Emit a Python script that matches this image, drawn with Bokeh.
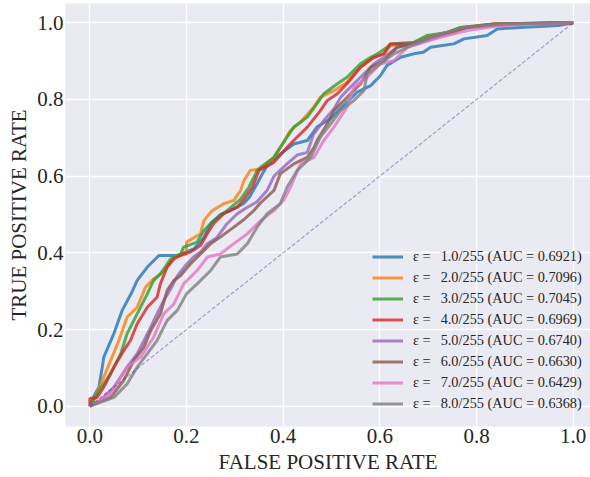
from bokeh.plotting import figure
from bokeh.models import Range1d, FixedTicker, NumeralTickFormatter, Legend, LegendItem
from bokeh.embed import file_html
from bokeh.resources import INLINE

# ---------------- data ----------------
eps_labels = ["1.0/255", "2.0/255", "3.0/255", "4.0/255",
              "5.0/255", "6.0/255", "7.0/255", "8.0/255"]
auc_values = ["0.6921", "0.7096", "0.7045", "0.6969",
              "0.6740", "0.6630", "0.6429", "0.6368"]
colors = ["#1f77b4", "#ff7f0e", "#2ca02c", "#d62728",
          "#9467bd", "#8c564b", "#e377c2", "#7f7f7f"]

fpr_1 = [0, 0.01, 0.019, 0.029, 0.05, 0.067, 0.088, 0.098, 0.119, 0.143, 0.18, 0.215, 0.236, 0.25, 0.27, 0.29, 0.318, 0.33, 0.346, 0.353, 0.367, 0.394, 0.422, 0.45, 0.47, 0.498, 0.532, 0.553, 0.581, 0.601, 0.615, 0.643, 0.67, 0.69, 0.705, 0.753, 0.774, 0.822, 0.843, 0.891, 0.97, 1]
tpr_1 = [0, 0.03, 0.05, 0.128, 0.19, 0.25, 0.30, 0.328, 0.363, 0.393, 0.393, 0.41, 0.44, 0.476, 0.50, 0.51, 0.528, 0.545, 0.58, 0.597, 0.628, 0.658, 0.684, 0.693, 0.728, 0.75, 0.793, 0.819, 0.836, 0.862, 0.889, 0.91, 0.919, 0.923, 0.936, 0.945, 0.958, 0.967, 0.984, 0.988, 0.993, 1]

fpr_2 = [0, 0.008, 0.029, 0.043, 0.06, 0.077, 0.098, 0.115, 0.132, 0.153, 0.174, 0.2, 0.2, 0.229, 0.236, 0.253, 0.277, 0.298, 0.312, 0.319, 0.332, 0.353, 0.381, 0.401, 0.415, 0.436, 0.463, 0.477, 0.505, 0.532, 0.553, 0.581, 0.608, 0.622, 0.667, 0.698, 0.739, 0.767, 0.836, 1]
tpr_2 = [0, 0.015, 0.076, 0.119, 0.171, 0.232, 0.258, 0.31, 0.332, 0.35, 0.389, 0.397, 0.428, 0.45, 0.484, 0.51, 0.528, 0.537, 0.563, 0.589, 0.615, 0.619, 0.649, 0.689, 0.719, 0.741, 0.78, 0.806, 0.823, 0.845, 0.876, 0.906, 0.919, 0.94, 0.945, 0.962, 0.975, 0.988, 0.997, 1]

fpr_3 = [0, 0.015, 0.043, 0.064, 0.077, 0.098, 0.119, 0.132, 0.146, 0.167, 0.188, 0.194, 0.222, 0.236, 0.256, 0.284, 0.312, 0.329, 0.345, 0.353, 0.381, 0.408, 0.422, 0.45, 0.47, 0.484, 0.512, 0.532, 0.56, 0.581, 0.595, 0.615, 0.622, 0.67, 0.698, 0.739, 0.767, 0.836, 0.96, 1]
tpr_3 = [0, 0.032, 0.085, 0.137, 0.189, 0.241, 0.293, 0.328, 0.345, 0.384, 0.397, 0.415, 0.428, 0.458, 0.484, 0.51, 0.54, 0.571, 0.612, 0.623, 0.649, 0.702, 0.728, 0.754, 0.789, 0.815, 0.841, 0.858, 0.893, 0.91, 0.919, 0.936, 0.945, 0.949, 0.967, 0.975, 0.988, 0.997, 1.0, 1]

fpr_4 = [0, 0, 0.015, 0.029, 0.05, 0.07, 0.084, 0.098, 0.119, 0.139, 0.146, 0.16, 0.174, 0.194, 0.208, 0.229, 0.243, 0.256, 0.277, 0.305, 0.319, 0.336, 0.35, 0.381, 0.408, 0.429, 0.45, 0.477, 0.491, 0.512, 0.532, 0.56, 0.588, 0.608, 0.622, 0.677, 0.705, 0.753, 0.781, 0.836, 1]
tpr_4 = [0, 0.02, 0.023, 0.05, 0.102, 0.145, 0.171, 0.215, 0.258, 0.284, 0.319, 0.363, 0.384, 0.397, 0.402, 0.419, 0.45, 0.476, 0.502, 0.519, 0.54, 0.57, 0.615, 0.636, 0.675, 0.702, 0.728, 0.771, 0.797, 0.815, 0.841, 0.884, 0.91, 0.919, 0.945, 0.945, 0.962, 0.975, 0.988, 0.997, 1]

fpr_5 = [0, 0.022, 0.05, 0.077, 0.098, 0.112, 0.126, 0.139, 0.153, 0.167, 0.181, 0.2, 0.215, 0.229, 0.243, 0.263, 0.284, 0.305, 0.326, 0.346, 0.367, 0.381, 0.408, 0.429, 0.45, 0.463, 0.484, 0.505, 0.519, 0.532, 0.56, 0.588, 0.608, 0.636, 0.691, 0.725, 0.781, 0.843, 1]
tpr_5 = [0, 0.015, 0.05, 0.102, 0.137, 0.171, 0.206, 0.241, 0.276, 0.305, 0.34, 0.37, 0.39, 0.402, 0.424, 0.44, 0.476, 0.502, 0.519, 0.533, 0.563, 0.6, 0.632, 0.655, 0.662, 0.71, 0.745, 0.775, 0.806, 0.823, 0.858, 0.893, 0.91, 0.936, 0.954, 0.971, 0.988, 0.995, 1]

fpr_6 = [0, 0.008, 0.043, 0.07, 0.091, 0.112, 0.126, 0.146, 0.16, 0.174, 0.188, 0.208, 0.229, 0.25, 0.27, 0.298, 0.319, 0.339, 0.353, 0.381, 0.394, 0.422, 0.45, 0.464, 0.47, 0.491, 0.505, 0.532, 0.56, 0.581, 0.608, 0.636, 0.698, 0.739, 0.781, 0.877, 1]
tpr_6 = [0, 0.006, 0.023, 0.067, 0.119, 0.154, 0.197, 0.241, 0.302, 0.328, 0.341, 0.371, 0.397, 0.424, 0.441, 0.467, 0.487, 0.51, 0.53, 0.563, 0.606, 0.632, 0.649, 0.675, 0.693, 0.736, 0.771, 0.805, 0.841, 0.884, 0.901, 0.936, 0.954, 0.971, 0.988, 0.997, 1]

fpr_7 = [0, 0.043, 0.077, 0.105, 0.132, 0.153, 0.174, 0.194, 0.222, 0.243, 0.27, 0.298, 0.326, 0.353, 0.381, 0.401, 0.415, 0.436, 0.464, 0.484, 0.505, 0.532, 0.546, 0.574, 0.601, 0.629, 0.657, 0.725, 0.781, 0.85, 1]
tpr_7 = [0, 0.032, 0.102, 0.128, 0.18, 0.241, 0.267, 0.319, 0.354, 0.389, 0.397, 0.424, 0.45, 0.484, 0.51, 0.537, 0.571, 0.632, 0.649, 0.693, 0.728, 0.78, 0.832, 0.858, 0.893, 0.901, 0.936, 0.962, 0.98, 0.993, 1]

fpr_8 = [0, 0.05, 0.077, 0.098, 0.119, 0.139, 0.16, 0.181, 0.2, 0.222, 0.25, 0.27, 0.305, 0.326, 0.346, 0.367, 0.394, 0.408, 0.429, 0.457, 0.477, 0.498, 0.519, 0.546, 0.567, 0.574, 0.601, 0.629, 0.657, 0.705, 0.774, 0.85, 1]
tpr_8 = [0, 0.023, 0.058, 0.102, 0.137, 0.171, 0.224, 0.25, 0.293, 0.319, 0.354, 0.389, 0.397, 0.424, 0.467, 0.502, 0.528, 0.571, 0.615, 0.649, 0.702, 0.736, 0.771, 0.797, 0.823, 0.867, 0.893, 0.919, 0.936, 0.962, 0.988, 0.997, 1]

fprs = [fpr_1, fpr_2, fpr_3, fpr_4, fpr_5, fpr_6, fpr_7, fpr_8]
tprs = [tpr_1, tpr_2, tpr_3, tpr_4, tpr_5, tpr_6, tpr_7, tpr_8]

chance_x = [0, 1]
chance_y = [0, 1]
tick_values = [0.0, 0.2, 0.4, 0.6, 0.8, 1.0]

# ---------------- figure ----------------
FONT = "Liberation Serif"
TEXT = "#262626"

p = figure(width=590, height=477, output_backend="svg", toolbar_location=None,
           x_range=Range1d(-0.0503, 1.0358), y_range=Range1d(-0.0529, 1.0503),
           min_border_left=65, min_border_right=0, min_border_top=3,
           min_border_bottom=51)

p.background_fill_color = "#EAEAF2"
p.border_fill_color = "white"
p.outline_line_color = None

for ax in (p.xaxis[0], p.yaxis[0]):
    ax.ticker = FixedTicker(ticks=tick_values)
    ax.formatter = NumeralTickFormatter(format="0.0")
    ax.axis_line_color = None
    ax.major_tick_line_color = None
    ax.minor_tick_line_color = None
    ax.major_tick_out = 0
    ax.major_tick_in = 0
    ax.minor_tick_out = 0
    ax.minor_tick_in = 0
    ax.major_label_text_font = FONT
    ax.major_label_text_font_size = "21px"
    ax.major_label_text_color = TEXT
    ax.axis_label_text_font = FONT
    ax.axis_label_text_font_size = "21px"
    ax.axis_label_text_font_style = "normal"
    ax.axis_label_text_color = TEXT
    ax.major_label_standoff = 2

p.xaxis.axis_label = "FALSE POSITIVE RATE"
p.yaxis.axis_label = "TRUE POSITIVE RATE"
p.xaxis.axis_label_standoff = 4
p.yaxis.axis_label_standoff = 3

p.xgrid.ticker = FixedTicker(ticks=tick_values)
p.ygrid.ticker = FixedTicker(ticks=tick_values)
p.grid.grid_line_color = "white"
p.grid.grid_line_width = 1.3

items = []
for i in range(8):
    r = p.line(fprs[i], tprs[i], line_color=colors[i], line_width=3, line_alpha=0.8)
    label = "\u03b5 = \u00a0\u2009" + eps_labels[i] + " (AUC = " + auc_values[i] + ")"
    items.append(LegendItem(label=label, renderers=[r]))

p.line(chance_x, chance_y, line_color="navy", line_alpha=0.3, line_width=1.3,
       line_dash="4 2")

legend = Legend(items=items, location=(307, 12), padding=0, margin=0, spacing=0,
                glyph_width=31, glyph_height=21, label_height=21, label_standoff=10,
                background_fill_alpha=0, border_line_alpha=0,
                label_text_font=FONT, label_text_font_size="14.3px",
                label_text_color=TEXT)
p.add_layout(legend)

open("out.html", "w").write(file_html(p, INLINE))
